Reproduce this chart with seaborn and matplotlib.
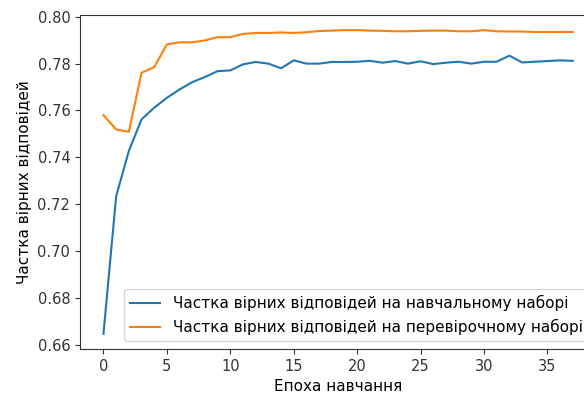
import pandas as pd
import seaborn as sns
import matplotlib
matplotlib.use("Agg")
import matplotlib.pyplot as plt

epochs = list(range(38))

train_acc = [0.6647, 0.7234, 0.7427, 0.7562, 0.7612, 0.7654, 0.7690, 0.7721, 0.7743, 0.7768,
             0.7771, 0.7797, 0.7807, 0.7800, 0.7780, 0.7814, 0.7800, 0.7800, 0.7807, 0.7807,
             0.7808, 0.7812, 0.7804, 0.7811, 0.7800, 0.7810, 0.7798, 0.7804, 0.7808, 0.7800,
             0.7808, 0.7808, 0.7834, 0.7805, 0.7808, 0.7811, 0.7814, 0.7812]

val_acc = [0.7580, 0.7519, 0.7509, 0.7761, 0.7785, 0.7882, 0.7891, 0.7891, 0.7899, 0.7913,
           0.7913, 0.7927, 0.7931, 0.7931, 0.7933, 0.7931, 0.7934, 0.7939, 0.7941, 0.7943,
           0.7943, 0.7941, 0.7940, 0.7938, 0.7938, 0.7940, 0.7941, 0.7941, 0.7938, 0.7938,
           0.7943, 0.7938, 0.7937, 0.7937, 0.7935, 0.7935, 0.7935, 0.7935]

train_label = "Частка вірних відповідей на навчальному наборі"
val_label = "Частка вірних відповідей на перевірочному наборі"

df = pd.DataFrame({"epoch": epochs, "train": train_acc, "val": val_acc})

fig = plt.figure(figsize=(5.84, 3.93), dpi=100)
ax = fig.add_axes([0.137, 0.112, 0.884, 0.850])

sns.lineplot(data=df, x="epoch", y="train", ax=ax, color="#1f77b4", label=train_label)
sns.lineplot(data=df, x="epoch", y="val", ax=ax, color="#ff7f0e", label=val_label)

# all four spines like the plain matplotlib look
for side in ["top", "right", "left", "bottom"]:
    ax.spines[side].set_visible(True)
    ax.spines[side].set_color("#333333")

ax.set_xlabel("Епоха навчання", fontsize=11)
ax.set_ylabel("Частка вірних відповідей", fontsize=11)
ax.set_xticks([0, 5, 10, 15, 20, 25, 30, 35])
ax.tick_params(labelsize=10.5, colors="#333333")
ax.legend(loc="lower right", fontsize=11)

fig.savefig("out.png", dpi=100)
